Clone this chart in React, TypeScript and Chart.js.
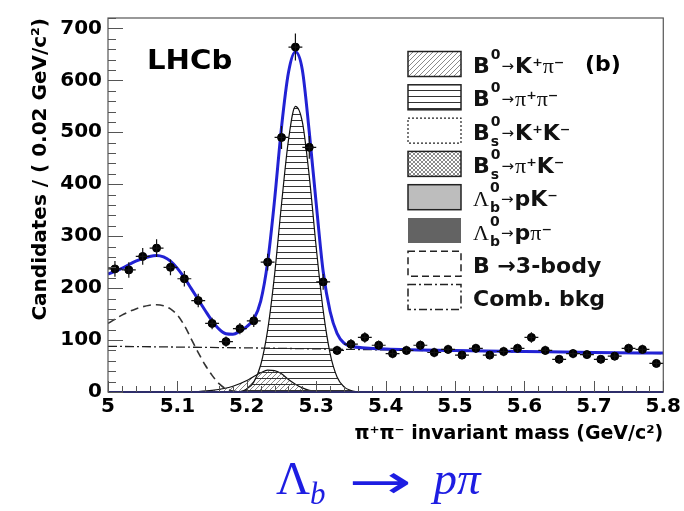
import React, { useEffect, useRef } from 'react';
import { Chart, registerables } from 'chart.js';

Chart.register(...registerables);

// ---------------- data ----------------
const binCenters = [5.01, 5.03, 5.05, 5.07, 5.09, 5.11, 5.13, 5.15, 5.17, 5.19, 5.21, 5.23, 5.25, 5.27, 5.29, 5.31, 5.33, 5.35, 5.37, 5.39, 5.41, 5.43, 5.45, 5.47, 5.49, 5.51, 5.53, 5.55, 5.57, 5.59, 5.61, 5.63, 5.65, 5.67, 5.69, 5.71, 5.73, 5.75, 5.77, 5.79];
const candidates = [237, 235, 261, 277, 240, 218, 176, 132, 97, 122, 137, 250, 490, 664, 471, 212, 80, 92, 105, 90, 74, 80, 90, 76, 82, 71, 84, 71, 78, 84, 105, 80, 63, 74, 72, 63, 69, 84, 82, 55];
const candErrors = [15, 15, 16, 17, 15, 15, 13, 11, 10, 11, 12, 16, 22, 26, 22, 15, 9, 10, 10, 9, 9, 9, 9, 9, 9, 8, 9, 8, 9, 9, 10, 9, 8, 9, 8, 8, 8, 9, 9, 7];

const fitMass = [5.0, 5.02, 5.04, 5.06, 5.07, 5.08, 5.09, 5.1, 5.11, 5.12, 5.13, 5.14, 5.15, 5.16, 5.17, 5.18, 5.19, 5.2, 5.21, 5.22, 5.23, 5.24, 5.25, 5.26, 5.27, 5.28, 5.29, 5.3, 5.31, 5.32, 5.33, 5.34, 5.35, 5.4, 5.5, 5.6, 5.7, 5.8];
const fitTotal = [227, 238, 252, 261, 263, 260, 252, 238, 220, 199, 178, 157, 137, 121, 112, 111, 117, 126, 140, 175, 250, 370, 510, 615, 655, 620, 500, 362, 232, 155, 113, 94, 88, 83, 80, 78, 76, 75];

const pipiMass = [5.18, 5.19, 5.2, 5.21, 5.22, 5.23, 5.24, 5.25, 5.26, 5.27, 5.28, 5.29, 5.3, 5.31, 5.32, 5.33, 5.34, 5.35, 5.36];
const pipiYield = [0, 1, 6, 19, 52, 119, 226, 362, 485, 550, 520, 415, 278, 157, 74, 29, 10, 3, 0];

const kpiMass = [5.12, 5.15, 5.18, 5.2, 5.21, 5.22, 5.23, 5.24, 5.25, 5.26, 5.27, 5.28, 5.29, 5.3, 5.32];
const kpiYield = [0, 3, 11, 22, 30, 37, 42, 41, 35, 24, 15, 8, 3, 1, 0];

const threeBodyMass = [5.0, 5.02, 5.04, 5.06, 5.07, 5.08, 5.09, 5.1, 5.11, 5.12, 5.13, 5.14, 5.15, 5.16, 5.17, 5.18, 5.2];
const threeBodyYield = [132, 148, 160, 167, 168, 166, 160, 148, 128, 102, 76, 52, 32, 16, 6, 2, 0];

const combMass = [5.0, 5.2, 5.4, 5.6, 5.8];
const combYield = [88, 85, 81, 77, 74];

const xTickValues = [5, 5.1, 5.2, 5.3, 5.4, 5.5, 5.6, 5.7, 5.8];
const xTickLabels = ['5', '5.1', '5.2', '5.3', '5.4', '5.5', '5.6', '5.7', '5.8'];
const yTickValues = [0, 100, 200, 300, 400, 500, 600, 700];

const legendEntries = [
  { main: 'B', sup: '0', sub: '', rest: '→K⁺π⁻', swatch: 'diag' },
  { main: 'B', sup: '0', sub: '', rest: '→π⁺π⁻', swatch: 'horiz' },
  { main: 'B', sup: '0', sub: 's', rest: '→K⁺K⁻', swatch: 'dotted' },
  { main: 'B', sup: '0', sub: 's', rest: '→π⁺K⁻', swatch: 'cross' },
  { main: 'Λ', sup: '0', sub: 'b', rest: '→pK⁻', swatch: 'light' },
  { main: 'Λ', sup: '0', sub: 'b', rest: '→pπ⁻', swatch: 'dark' },
  { main: 'B →3-body', sup: '', sub: '', rest: '', swatch: 'dashed' },
  { main: 'Comb. bkg', sup: '', sub: '', rest: '', swatch: 'dashdot' },
];

const FONT = '"DejaVu Sans", sans-serif';
const SERIF = '"Liberation Serif", serif';
const FIT_BLUE = '#2222d4';

function fontForChar(ch: string): string {
  if (ch === 'π' || ch === 'Λ') return `22px ${SERIF}`;
  if (ch === '→') return `15px ${FONT}`;
  if (ch === '⁺' || ch === '⁻') return `bold 20px ${FONT}`;
  return `bold 22px ${FONT}`;
}

function makePattern(kind: string, color: string, size: number): CanvasPattern | string {
  const c = document.createElement('canvas');
  c.width = size;
  c.height = size;
  const g = c.getContext('2d');
  if (!g) return color;
  g.strokeStyle = color;
  g.lineWidth = 1;
  if (kind === 'horiz') {
    g.beginPath();
    g.moveTo(0, 0.5);
    g.lineTo(size, 0.5);
    g.stroke();
  } else if (kind === 'diag' || kind === 'cross') {
    g.beginPath();
    g.moveTo(0, size);
    g.lineTo(size, 0);
    g.moveTo(-1, 1);
    g.lineTo(1, -1);
    g.moveTo(size - 1, size + 1);
    g.lineTo(size + 1, size - 1);
    if (kind === 'cross') {
      g.moveTo(0, 0);
      g.lineTo(size, size);
      g.moveTo(-1, size - 1);
      g.lineTo(1, size + 1);
      g.moveTo(size - 1, -1);
      g.lineTo(size + 1, 1);
    }
    g.stroke();
  }
  const p = g.createPattern(c, 'repeat');
  return p || color;
}

export default function App() {
  const canvasRef = useRef<HTMLCanvasElement | null>(null);

  useEffect(() => {
    const canvas = canvasRef.current;
    if (!canvas) return;

    const horizPat = makePattern('horiz', '#333', 6);
    const diagPat = makePattern('diag', '#8a8a8a', 5);
    const crossPat = makePattern('cross', '#8a8a8a', 4);

    const decorPlugin = {
      id: 'decor',
      afterDatasetsDraw(chart: any) {
        const { ctx } = chart;
        const xs = chart.scales.x;
        const ys = chart.scales.y;
        ctx.save();
        ctx.strokeStyle = '#111';
        ctx.lineWidth = 1.2;
        binCenters.forEach((m, i) => {
          const px = xs.getPixelForValue(m);
          const py = ys.getPixelForValue(candidates[i]);
          const pyLo = ys.getPixelForValue(candidates[i] - candErrors[i]);
          const pyHi = ys.getPixelForValue(candidates[i] + candErrors[i]);
          const pxL = xs.getPixelForValue(m - 0.01);
          const pxR = xs.getPixelForValue(m + 0.01);
          ctx.beginPath();
          ctx.moveTo(px, pyLo);
          ctx.lineTo(px, pyHi);
          ctx.moveTo(pxL, py);
          ctx.lineTo(pxR, py);
          ctx.stroke();
        });
        ctx.restore();
      },
      afterDraw(chart: any) {
        const { ctx, chartArea } = chart;
        const xs = chart.scales.x;
        const ys = chart.scales.y;
        const { left, right, top, bottom } = chartArea;
        ctx.save();
        // frame
        ctx.strokeStyle = '#555';
        ctx.lineWidth = 1.2;
        ctx.strokeRect(left, top, right - left, bottom - top);
        ctx.strokeStyle = '#2d2d6a';
        ctx.lineWidth = 2;
        ctx.beginPath();
        ctx.moveTo(left, bottom);
        ctx.lineTo(right, bottom);
        ctx.stroke();
        // inner ticks
        ctx.strokeStyle = '#555';
        ctx.lineWidth = 1;
        ctx.beginPath();
        for (let v = 0; v <= 720; v += 20) {
          const py = Math.round(ys.getPixelForValue(v)) + 0.5;
          const len = v % 100 === 0 ? 15 : 8;
          ctx.moveTo(left, py);
          ctx.lineTo(left + len, py);
        }
        for (let i = 0; i <= 40; i++) {
          const px = Math.round(xs.getPixelForValue(5 + i * 0.02)) + 0.5;
          const len = i % 5 === 0 ? 11 : 6;
          ctx.moveTo(px, bottom);
          ctx.lineTo(px, bottom - len);
        }
        ctx.stroke();

        // LHCb label
        ctx.fillStyle = '#000';
        ctx.textBaseline = 'alphabetic';
        ctx.textAlign = 'left';
        ctx.save();
        ctx.translate(147, 69);
        ctx.scale(1.08, 1);
        ctx.font = `bold 27px ${FONT}`;
        ctx.fillText('LHCb', 0, 0);
        ctx.restore();
        ctx.font = `bold 22px ${FONT}`;
        ctx.fillText('(b)', 585, 71);

        // legend
        const sx = 408, sw = 53, sh = 25, y0 = 64, pitch = 33.3, tx = 473;
        legendEntries.forEach((e, i) => {
          const cy = y0 + i * pitch;
          const ry = cy - sh / 2;
          ctx.save();
          ctx.lineWidth = 1.5;
          ctx.strokeStyle = '#222';
          ctx.setLineDash([]);
          if (e.swatch === 'diag') {
            ctx.fillStyle = diagPat;
            ctx.fillRect(sx, ry, sw, sh);
            ctx.strokeRect(sx, ry, sw, sh);
          } else if (e.swatch === 'horiz') {
            ctx.fillStyle = horizPat;
            ctx.fillRect(sx, ry, sw, sh);
            ctx.strokeRect(sx, ry, sw, sh);
          } else if (e.swatch === 'cross') {
            ctx.fillStyle = crossPat;
            ctx.fillRect(sx, ry, sw, sh);
            ctx.strokeRect(sx, ry, sw, sh);
          } else if (e.swatch === 'light') {
            ctx.fillStyle = '#bdbdbd';
            ctx.fillRect(sx, ry, sw, sh);
            ctx.strokeRect(sx, ry, sw, sh);
          } else if (e.swatch === 'dark') {
            ctx.fillStyle = '#636363';
            ctx.fillRect(sx, ry, sw, sh);
          } else if (e.swatch === 'dotted') {
            ctx.lineWidth = 1.2;
            ctx.setLineDash([2, 2]);
            ctx.strokeRect(sx, ry, sw, sh);
          } else if (e.swatch === 'dashed') {
            ctx.setLineDash([7, 4]);
            ctx.strokeRect(sx, ry, sw, sh);
          } else if (e.swatch === 'dashdot') {
            ctx.setLineDash([8, 3, 2, 3]);
            ctx.strokeRect(sx, ry, sw, sh);
          }
          ctx.restore();

          const base = cy + 9;
          ctx.fillStyle = '#111';
          let x = tx;
          if (e.sup || e.sub) {
            ctx.font = fontForChar(e.main);
            ctx.fillText(e.main, x, base);
            x += ctx.measureText(e.main).width;
            ctx.font = `bold 14px ${FONT}`;
            let w = 0;
            if (e.sup) {
              ctx.fillText(e.sup, x + 1, base - 14);
              w = Math.max(w, ctx.measureText(e.sup).width);
            }
            if (e.sub) {
              ctx.fillText(e.sub, x + 1, base + 6);
              w = Math.max(w, ctx.measureText(e.sub).width);
            }
            x += w + 2;
          } else {
            ctx.font = `bold 22px ${FONT}`;
            ctx.fillText(e.main, x, base);
            x += ctx.measureText(e.main).width;
          }
          for (const ch of Array.from(e.rest)) {
            ctx.font = fontForChar(ch);
            const dy = ch === '→' ? -2 : 0;
            ctx.fillText(ch, x, base + dy);
            x += ctx.measureText(ch).width + (ch === '→' ? 1 : 0);
          }
        });
        ctx.restore();
      },
    };

    const chart = new Chart(canvas, {
      type: 'line',
      data: {
        datasets: [
          {
            label: 'Data',
            data: binCenters.map((m, i) => ({ x: m, y: candidates[i] })),
            showLine: false,
            pointRadius: 4,
            pointBackgroundColor: '#000',
            pointBorderColor: '#000',
            borderColor: '#000',
          },
          {
            label: 'Total fit',
            data: fitMass.map((m, i) => ({ x: m, y: fitTotal[i] })),
            borderColor: FIT_BLUE,
            borderWidth: 3,
            pointRadius: 0,
            fill: false,
            cubicInterpolationMode: 'monotone',
          },
          {
            label: 'Comb. bkg',
            data: combMass.map((m, i) => ({ x: m, y: combYield[i] })),
            borderColor: '#222',
            borderWidth: 1.3,
            borderDash: [9, 3, 2, 3],
            pointRadius: 0,
            fill: false,
          },
          {
            label: 'B →3-body',
            data: threeBodyMass.map((m, i) => ({ x: m, y: threeBodyYield[i] })),
            borderColor: '#333',
            borderWidth: 1.6,
            borderDash: [8, 5],
            pointRadius: 0,
            fill: false,
            cubicInterpolationMode: 'monotone',
          },
          {
            label: 'B0→π+π−',
            data: pipiMass.map((m, i) => ({ x: m, y: pipiYield[i] })),
            borderColor: '#111',
            borderWidth: 1.2,
            backgroundColor: horizPat as any,
            pointRadius: 0,
            fill: 'origin',
            cubicInterpolationMode: 'monotone',
          },
          {
            label: 'B0→K+π−',
            data: kpiMass.map((m, i) => ({ x: m, y: kpiYield[i] })),
            borderColor: '#111',
            borderWidth: 1.2,
            backgroundColor: diagPat as any,
            pointRadius: 0,
            fill: 'origin',
            cubicInterpolationMode: 'monotone',
          },
        ],
      },
      options: {
        animation: false,
        responsive: false,
        devicePixelRatio: 1,
        layout: { padding: { top: 13, right: 16, bottom: 66, left: 0 } },
        plugins: {
          legend: { display: false },
          tooltip: { enabled: false },
          title: { display: false },
        },
        scales: {
          x: {
            type: 'linear',
            min: 5,
            max: 5.8,
            afterFit: (s: any) => { s.height = 53; },
            afterBuildTicks: (s: any) => { s.ticks = xTickValues.map((v) => ({ value: v })); },
            grid: { display: false, drawTicks: false },
            border: { display: false },
            ticks: {
              autoSkip: false,
              maxRotation: 0,
              padding: 3,
              color: '#000',
              font: { family: FONT, size: 20, weight: 'bold' },
              callback: (v: any) => {
                const idx = xTickValues.findIndex((t) => Math.abs(t - Number(v)) < 1e-6);
                return idx >= 0 ? xTickLabels[idx] : '';
              },
            },
            title: {
              display: true,
              text: 'π⁺π⁻ invariant mass (GeV/c²)',
              align: 'end',
              color: '#000',
              font: { family: FONT, size: 19, weight: 'bold' },
              padding: { top: -2, bottom: 0 },
            },
          },
          y: {
            type: 'linear',
            min: 0,
            max: 720,
            afterFit: (s: any) => { s.width = 108; },
            afterBuildTicks: (s: any) => { s.ticks = yTickValues.map((v) => ({ value: v })); },
            grid: { display: false, drawTicks: false },
            border: { display: false },
            ticks: {
              padding: 6,
              color: '#000',
              font: { family: FONT, size: 20, weight: 'bold' },
              callback: (v: any) => String(v),
            },
            title: {
              display: true,
              text: 'Candidates / ( 0.02 GeV/c²)',
              align: 'end',
              color: '#000',
              font: { family: FONT, size: 20, weight: 'bold' },
              padding: { top: 29, bottom: 0 },
            },
          },
        },
      } as any,
      plugins: [decorPlugin],
    });

    return () => {
      chart.destroy();
    };
  }, []);

  return (
    <div style={{ position: 'fixed', left: 0, top: 0, width: 684, height: 511, background: '#fff', overflow: 'hidden' }}>
      <canvas ref={canvasRef} width={684} height={511} style={{ display: 'block', width: 684, height: 511 }} />
      <div
        style={{
          position: 'absolute',
          left: 276,
          top: 450,
          color: '#1d1de2',
          fontFamily: '"Liberation Serif", "DejaVu Serif", serif',
          fontSize: 47,
          lineHeight: '56px',
          whiteSpace: 'nowrap',
        }}
      >
        Λ<span style={{ fontSize: 31, fontStyle: 'italic', position: 'relative', top: 10 }}>b</span>
        <span style={{ display: 'inline-block', width: 108, textAlign: 'center' }}>
          <span style={{ display: 'inline-block', transform: 'scale(2.1, 1.3)', fontFamily: '"DejaVu Sans", sans-serif', fontSize: 36 }}>→</span>
        </span>
        <i>pπ</i>
      </div>
    </div>
  );
}
